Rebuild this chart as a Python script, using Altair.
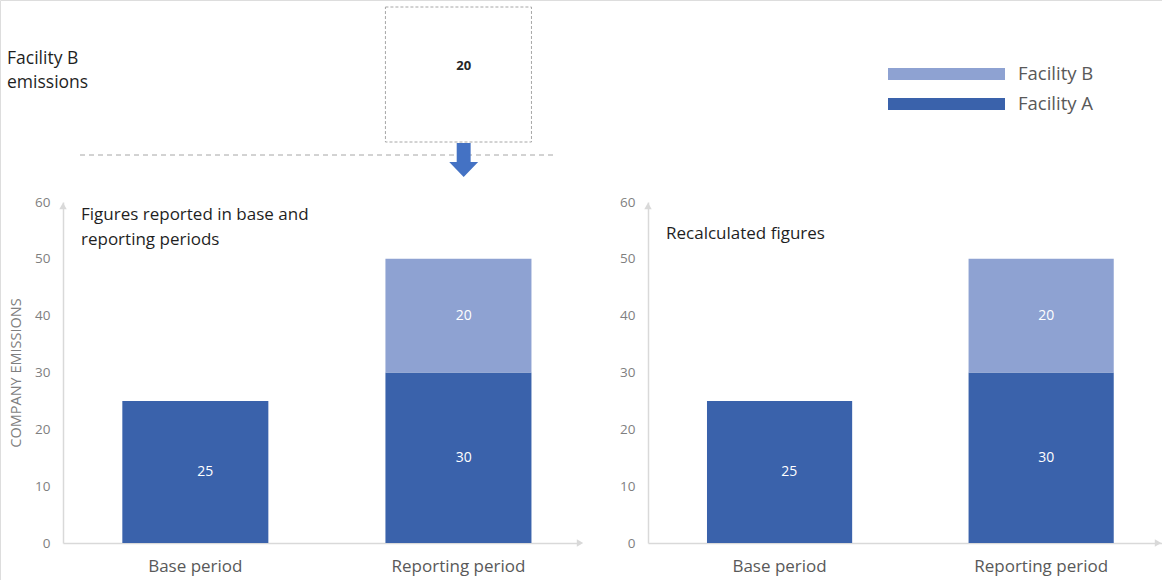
import altair as alt
import pandas as pd

# ---- data ----
periods = ["Base period", "Reporting period"]
facilities = ["Facility A", "Facility B"]
legend_order = ["Facility B", "Facility A"]
reported_a = [25, 30]
reported_b = [0, 20]
recalc_a = [25, 30]
recalc_b = [0, 20]
facility_b_box_period = ["Reporting period"]
facility_b_box_value = [20]
y_ticks = [0, 10, 20, 30, 40, 50, 60]

DARK = "#3A62AB"
LIGHT = "#8EA2D2"
GREY_AXIS = "#D9D9D9"
FONT = "Open Sans"

color_scale = alt.Scale(domain=facilities, range=[DARK, LIGHT])


def panel_df(a_vals, b_vals):
    rows = []
    for p, va, vb in zip(periods, a_vals, b_vals):
        if va:
            rows.append({"period": p, "facility": "Facility A", "value": va, "order": 0})
        if vb:
            rows.append({"period": p, "facility": "Facility B", "value": vb, "order": 1})
    return pd.DataFrame(rows)


def x_scale(rng):
    return alt.Scale(domain=periods, range=rng, paddingInner=0.445,
                     paddingOuter=0.205, align=0.55)


def y_scale():
    return alt.Scale(domain=[0, 60], range=[543, 202], nice=False, zero=True)


def panel(df, rng, yoff):
    base = alt.Chart(df).transform_stack(
        stack="value", groupby=["period"],
        sort=[alt.SortField(field="order", order="ascending")],
        as_=["v0", "v1"],
    ).transform_calculate(mid="(datum.v0 + datum.v1) / 2")
    bars = base.mark_bar(cornerRadius=0).encode(
        x=alt.X("period:N", scale=x_scale(rng), sort=periods,
                axis=alt.Axis(orient="bottom", offset=-37, title=None, labelAngle=0,
                              ticks=False, tickSize=0, labelPadding=15,
                              labelFontSize=17, labelColor="#595959", labelFont=FONT,
                              domainColor=GREY_AXIS, domainWidth=1.5)),
        y=alt.Y("v0:Q", scale=y_scale(),
                axis=alt.Axis(orient="left", offset=yoff, title=None, values=y_ticks,
                              ticks=False, tickSize=0, labelPadding=13, grid=False,
                              labelFontSize=13.5, labelColor="#7F7F7F", labelFont=FONT,
                              domainColor=GREY_AXIS, domainWidth=1.5)),
        y2="v1:Q",
        color=alt.Color("facility:N", scale=color_scale, legend=None),
    )
    labels = base.mark_text(color="white", fontSize=14, font=FONT, baseline="middle").encode(
        x=alt.X("period:N", scale=x_scale(rng), sort=periods, axis=None),
        y=alt.Y("mid:Q", scale=y_scale(), axis=None),
        text="value:Q",
    )
    return [bars, labels]


LEFT_RANGE = [63, 580]
RIGHT_RANGE = [648, 1162]

left_layers = panel(panel_df(reported_a, reported_b), LEFT_RANGE, -63)
right_layers = panel(panel_df(recalc_a, recalc_b), RIGHT_RANGE, -648)

one = pd.DataFrame({"k": [0]})

# axis arrow heads
arrow_heads = [
    alt.Chart(one).mark_point(shape="triangle-up", size=55, filled=True, color=GREY_AXIS, opacity=1)
    .encode(x=alt.value(63), y=alt.value(206)),
    alt.Chart(one).mark_point(shape="triangle-right", size=55, filled=True, color=GREY_AXIS, opacity=1)
    .encode(x=alt.value(580), y=alt.value(543)),
    alt.Chart(one).mark_point(shape="triangle-up", size=55, filled=True, color=GREY_AXIS, opacity=1)
    .encode(x=alt.value(648), y=alt.value(206)),
    alt.Chart(one).mark_point(shape="triangle-right", size=55, filled=True, color=GREY_AXIS, opacity=1)
    .encode(x=alt.value(1158), y=alt.value(543)),
]

y_title = alt.Chart(one).mark_text(
    text="COMPANY EMISSIONS", angle=270, fontSize=14.5, font=FONT, color="#7F7F7F",
    baseline="middle", align="center",
).encode(x=alt.value(17), y=alt.value(373))

sub_left = alt.Chart(one).mark_text(
    text=["Figures reported in base and", "reporting periods"], align="left", baseline="top",
    fontSize=17, lineHeight=25, font=FONT, color="#1F1F1F",
).encode(x=alt.value(81), y=alt.value(207))

sub_right = alt.Chart(one).mark_text(
    text="Recalculated figures", align="left", baseline="middle",
    fontSize=17, font=FONT, color="#1F1F1F",
).encode(x=alt.value(666), y=alt.value(234))

fac_b_text = alt.Chart(one).mark_text(
    text=["Facility B", "emissions"], align="left", baseline="top",
    fontSize=17.5, lineHeight=24, font=FONT, color="#1F1F1F",
).encode(x=alt.value(7), y=alt.value(50))

box_df = pd.DataFrame({"period": facility_b_box_period, "value": facility_b_box_value})
box = alt.Chart(box_df).mark_rect(
    fill="white", stroke="#A6A6A6", strokeDash=[3, 2], strokeWidth=1,
).encode(
    x=alt.X("period:N", scale=x_scale(LEFT_RANGE), axis=None),
    y=alt.value(7), y2=alt.value(142),
)
box_text = alt.Chart(box_df).mark_text(
    fontSize=13, fontWeight="bold", font=FONT, color="#262626", baseline="middle",
).encode(
    x=alt.X("period:N", scale=x_scale(LEFT_RANGE), axis=None),
    y=alt.value(66), text="value:Q",
)

dash_line = alt.Chart(one).mark_rule(stroke="#A6A6A6", strokeDash=[5, 4], strokeWidth=1).encode(
    x=alt.value(80), x2=alt.value(553), y=alt.value(155)
)

arrow_path = "M-0.41,-1 L0.41,-1 L0.41,0.12 L0.85,0.12 L0,1 L-0.85,0.12 L-0.41,0.12 Z"
down_arrow = alt.Chart(box_df).mark_point(
    shape=arrow_path, size=1156, filled=True, color="#4472C4", opacity=1, strokeWidth=0,
).encode(
    x=alt.X("period:N", scale=x_scale(LEFT_RANGE), axis=None),
    y=alt.value(160),
)

legend_df = pd.DataFrame({"facility": legend_order})
legend_y = alt.Y("facility:O", scale=alt.Scale(type="point", domain=legend_order,
                                                range=[74, 104], padding=0), axis=None)
legend_lines = alt.Chart(legend_df).mark_rule(strokeWidth=12, strokeCap="butt").encode(
    x=alt.value(888), x2=alt.value(1005), y=legend_y,
    color=alt.Color("facility:N", scale=color_scale, legend=None),
)
legend_text = alt.Chart(legend_df).mark_text(
    align="left", baseline="middle", fontSize=18.5, font=FONT, color="#595959",
).encode(x=alt.value(1018), y=legend_y, text="facility:N")

chart = alt.layer(
    *left_layers, *right_layers, *arrow_heads, y_title, sub_left, sub_right,
    fac_b_text, dash_line, box, box_text, down_arrow, legend_lines, legend_text,
).resolve_scale(
    x="independent", y="independent"
).properties(
    width=1162, height=580, padding=0,
    autosize=alt.AutoSizeParams(type="none"),
).configure_view(stroke=None).configure(font=FONT, background="white")

chart.save("out.html", embed_options={"renderer": "svg", "actions": False})
